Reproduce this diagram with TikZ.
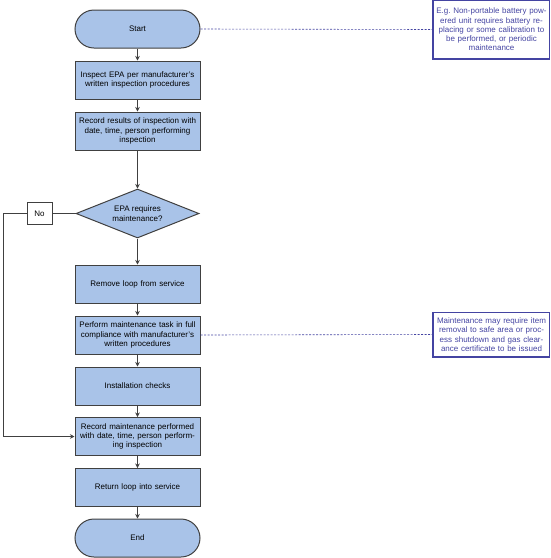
\documentclass[tikz,border=0pt]{standalone}
\usepackage{fontspec}
\setmainfont{Liberation Sans}
\usepackage{tikz}
\usetikzlibrary{arrows.meta, positioning, shapes.geometric}
\definecolor{boxFill}{HTML}{A9C3E8}
\definecolor{boxLine}{gray}{0.25}
\definecolor{noteBlue}{HTML}{4444A2}

\begin{document}
\begin{tikzpicture}[x=1pt, y=-1pt, >={Stealth[length=4.5pt, width=4.5pt]},
    every node/.style={font=\fontsize{8}{9.3}\selectfont, align=center},
    process/.style={draw=boxLine, line width=1pt, fill=boxFill, minimum width=125pt, minimum height=38pt, inner sep=0pt, text width=118pt},
    terminal/.style={process, rounded corners=19pt},
    decision/.style={diamond, draw=boxLine, line width=1pt, fill=boxFill, minimum width=123pt, minimum height=49pt, inner sep=0pt, aspect=2.5},
    note/.style={draw=noteBlue, line width=0.5pt, text=noteBlue, minimum width=116pt, inner sep=0pt, text width=112pt},
    noteBar/.style={noteBlue, line width=1.8pt},
    link/.style={->, boxLine, line width=1pt},
    aside/.style={noteBlue, line width=0.6pt, dash pattern=on 2pt off 1.5pt}]
    \useasboundingbox (0,0) rectangle (550,558);

    % main column
    \node[terminal] (start) at (137.5,29) {Start};
    \node[process] (inspect) at (137.5,80) {Inspect EPA per manufacturer's\\written inspection procedures};
    \node[process] (record) at (137.5,131) {Record results of inspection with\\date, time, person performing\\inspection};
    \node[decision] (check) at (137.5,213.5) {EPA requires\\maintenance?};
    \node[process] (remove) at (137.5,284) {Remove loop from service};
    \node[process] (perform) at (137.5,335) {Perform maintenance task in full\\compliance with manufacturer's\\written procedures};
    \node[process] (install) at (137.5,386) {Installation checks};
    \node[process] (recmaint) at (137.5,436.5) {Record maintenance performed\\with date, time, person perform-\\ing inspection};
    \node[process] (return) at (137.5,487.5) {Return loop into service};
    \node[terminal] (end) at (137.5,538) {End};

    % no branch
    \node[draw=boxLine, line width=1pt, fill=white, minimum width=25pt, minimum height=22pt, inner sep=0pt] (no) at (39.5,213.5) {No};
    \coordinate (bendTop) at (3,213.5);
    \coordinate (bendLow) at (3,436.5);

    % notes
    \node[note, minimum height=58pt] (note1) at (491.5,29.5) {E.g.\ Non-portable battery pow-\\ered unit requires battery re-\\placing or some calibration to\\be performed, or periodic\\maintenance};
    \node[note, minimum height=45pt] (note2) at (491.5,334.5) {Maintenance may require item\\removal to safe area or proc-\\ess shutdown and gas clear-\\ance certificate to be issued};
    \draw[noteBar] (note1.north west) -- (note1.south west) -- (note1.south east);
    \draw[noteBar] (note2.north west) -- (note2.south west) -- (note2.south east);

    \draw[link] (start) -- (inspect);
    \draw[link] (inspect) -- (record);
    \draw[link] (record) -- (check);
    \draw[link] (check) -- (remove);
    \draw[link] (remove) -- (perform);
    \draw[link] (perform) -- (install);
    \draw[link] (install) -- (recmaint);
    \draw[link] (recmaint) -- (return);
    \draw[link] (return) -- (end);

    \draw[boxLine, line width=1pt] (check.west) -- (no.east);
    \draw[link] (no.west) -- (bendTop) -- (bendLow) -- (recmaint.west);

    \draw[aside] (start.east) -- (note1.west);
    \draw[aside] (perform.east) -- (note2.west);
\end{tikzpicture}
\end{document}
